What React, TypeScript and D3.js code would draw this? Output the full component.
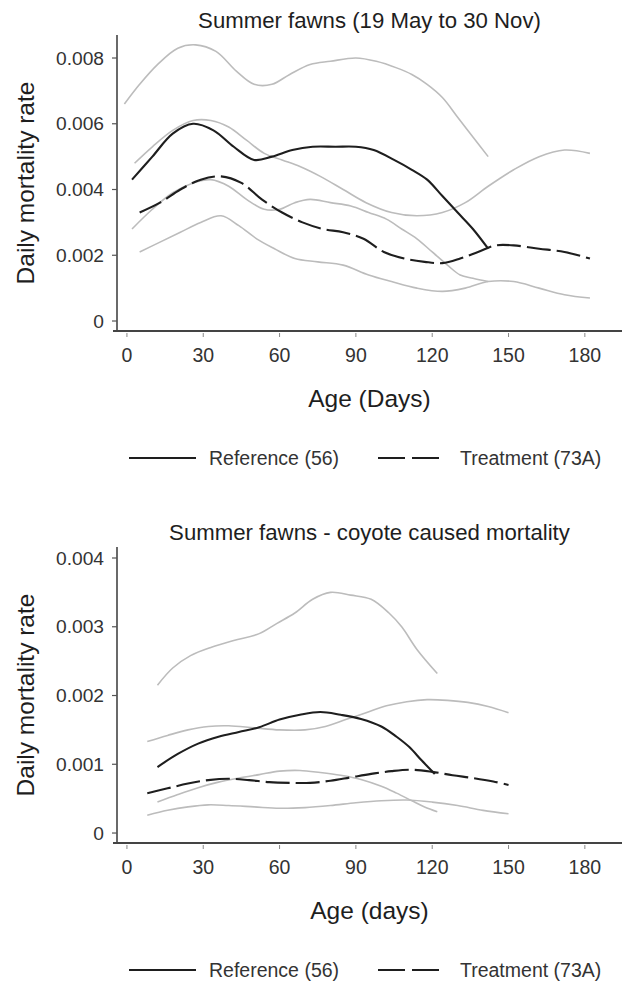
import React from "react";
import * as d3 from "d3";

// ---- Panel 1: all-cause mortality of summer fawns ----
const allRefAge = [2, 10, 18, 26, 34, 42, 50, 57, 65, 73, 82, 90, 97, 105, 112, 118, 124, 130, 136, 142];
const allRefRate = [0.0043, 0.005, 0.0057, 0.006, 0.0058, 0.0053, 0.0049, 0.005, 0.0052, 0.0053, 0.0053, 0.0053, 0.0052, 0.0049, 0.0046, 0.0043, 0.0038, 0.0033, 0.0028, 0.0022];

const allRefHiAge = [-1, 5, 12, 20, 27, 35, 43, 50, 57, 64, 72, 80, 90, 98, 106, 112, 118, 124, 130, 136, 142];
const allRefHiRate = [0.0066, 0.0072, 0.0078, 0.0083, 0.0084, 0.0082, 0.0076, 0.0072, 0.0072, 0.0075, 0.0078, 0.0079, 0.008, 0.0079, 0.0077, 0.0075, 0.0072, 0.0068, 0.0062, 0.0056, 0.005];

const allRefLoAge = [2, 10, 18, 26, 33, 40, 47, 54, 60, 66, 72, 80, 88, 95, 102, 108, 114, 120, 126, 131, 136, 142];
const allRefLoRate = [0.0028, 0.0034, 0.0039, 0.0042, 0.0043, 0.0041, 0.0037, 0.0034, 0.0034, 0.0036, 0.0037, 0.0036, 0.0035, 0.0033, 0.0031, 0.0028, 0.0025, 0.0021, 0.0017, 0.0014, 0.0013, 0.0012];

const allTrtAge = [5, 13, 21, 29, 37, 45, 53, 61, 69, 77, 85, 93, 101, 109, 117, 124, 131, 138, 145, 152, 162, 172, 182];
const allTrtRate = [0.0033, 0.0036, 0.004, 0.0043, 0.0044, 0.0042, 0.0037, 0.0033, 0.003, 0.0028, 0.0027, 0.0025, 0.0021, 0.0019, 0.0018, 0.00176, 0.0019, 0.0021, 0.0023, 0.0023, 0.0022, 0.0021, 0.0019];

const allTrtHiAge = [3, 10, 18, 26, 33, 40, 47, 54, 61, 68, 76, 85, 94, 104, 114, 124, 133, 142, 152, 162, 172, 182];
const allTrtHiRate = [0.0048, 0.0053, 0.0058, 0.0061, 0.0061, 0.0059, 0.0055, 0.0051, 0.0049, 0.0047, 0.0044, 0.004, 0.0036, 0.0033, 0.0032, 0.0033, 0.0036, 0.0041, 0.0046, 0.005, 0.0052, 0.0051];

const allTrtLoAge = [5, 13, 21, 29, 37, 44, 51, 58, 66, 75, 85, 95, 104, 114, 124, 133, 142, 152, 162, 172, 182];
const allTrtLoRate = [0.0021, 0.0024, 0.0027, 0.003, 0.0032, 0.0029, 0.0025, 0.0022, 0.0019, 0.0018, 0.0017, 0.0014, 0.0012, 0.001, 0.0009, 0.001, 0.0012, 0.0012, 0.001, 0.0008, 0.0007];

// ---- Panel 2: coyote-caused mortality ----
const coyRefAge = [12, 20, 28, 36, 44, 52, 60, 68, 76, 84, 92, 100, 106, 111, 116, 121];
const coyRefRate = [0.00096, 0.00115, 0.0013, 0.0014, 0.00147, 0.00154, 0.00165, 0.00172, 0.00176, 0.00172, 0.00166, 0.00155, 0.0014, 0.00125, 0.00105, 0.00086];

const coyRefHiAge = [12, 18, 25, 33, 42, 52, 59, 66, 73, 80, 88, 96, 103, 108, 114, 122];
const coyRefHiRate = [0.00215, 0.0024, 0.00258, 0.0027, 0.0028, 0.0029, 0.00305, 0.0032, 0.0034, 0.0035, 0.00346, 0.0034, 0.0032, 0.003, 0.00267, 0.00232];

const coyRefLoAge = [12, 20, 28, 36, 44, 52, 60, 68, 76, 84, 92, 100, 106, 112, 117, 122];
const coyRefLoRate = [0.00045, 0.00056, 0.00066, 0.00074, 0.0008, 0.00085, 0.0009, 0.00091, 0.00088, 0.00084, 0.00078, 0.00068, 0.00058, 0.00047, 0.00038, 0.00031];

const coyTrtAge = [8, 16, 24, 32, 40, 48, 56, 64, 72, 80, 88, 96, 104, 112, 120, 128, 136, 144, 150];
const coyTrtRate = [0.00058, 0.00065, 0.00072, 0.00077, 0.00079, 0.00077, 0.00074, 0.00073, 0.00073, 0.00076, 0.00081, 0.00086, 0.0009, 0.00092, 0.00089, 0.00084, 0.0008, 0.00075, 0.0007];

const coyTrtHiAge = [8, 16, 24, 32, 40, 50, 60, 70, 78, 86, 94, 102, 110, 118, 126, 134, 142, 150];
const coyTrtHiRate = [0.00133, 0.00142, 0.0015, 0.00155, 0.00156, 0.00153, 0.0015, 0.0015, 0.00155, 0.00165, 0.00175, 0.00185, 0.00191, 0.00194, 0.00193, 0.0019, 0.00184, 0.00175];

const coyTrtLoAge = [8, 16, 24, 32, 40, 50, 60, 70, 80, 90, 100, 110, 120, 130, 140, 150];
const coyTrtLoRate = [0.00026, 0.00033, 0.00038, 0.00041, 0.0004, 0.00038, 0.00036, 0.00037, 0.0004, 0.00044, 0.00047, 0.00048, 0.00045, 0.0004, 0.00033, 0.00028];

// ---- Axes and labels ----
const ageTicks = [0, 30, 60, 90, 120, 150, 180];
const allRateTicks = [0, 0.002, 0.004, 0.006, 0.008];
const coyRateTicks = [0, 0.001, 0.002, 0.003, 0.004];
const legendLabels = ["Reference (56)", "Treatment (73A)"];

const FONT = "'Liberation Sans', Arial, Helvetica, sans-serif";
const INK = "#1e1e1e";
const GREY = "#bcbcbc";
const DASH = "24,6";

type Series = { age: number[]; rate: number[]; kind: "ref" | "trt" | "ci" };

type PanelProps = {
  top: number;
  title: string;
  xTitle: string;
  yDomain: [number, number];
  yTicks: number[];
  yFormat: (v: number) => string;
  series: Series[];
};

const PLOT_LEFT = 117;
const PLOT_RIGHT = 622;
const PLOT_TOP = 35;
const PLOT_BOTTOM = 331;

function Panel({ top, title, xTitle, yDomain, yTicks, yFormat, series }: PanelProps) {
  const x = d3.scaleLinear().domain([-3.9, 194.6]).range([PLOT_LEFT, PLOT_RIGHT]);
  const y = d3.scaleLinear().domain(yDomain).range([PLOT_BOTTOM, PLOT_TOP]);
  const line = d3
    .line<[number, number]>()
    .x((d) => x(d[0]))
    .y((d) => y(d[1]))
    .curve(d3.curveCatmullRom.alpha(0.5));

  // confidence bands first, estimates on top
  const ordered = [...series].sort((a, b) => (a.kind === "ci" ? 0 : 1) - (b.kind === "ci" ? 0 : 1));
  const midX = (PLOT_LEFT + PLOT_RIGHT) / 2;
  const midY = (PLOT_TOP + PLOT_BOTTOM) / 2;
  const legendY = 458;

  return (
    <g transform={`translate(0,${top})`}>
      <text x={midX} y={28} textAnchor="middle" fontSize={22.2} fill={INK} fontFamily={FONT}>
        {title}
      </text>

      {ordered.map((s, i) => {
        const pts = s.age.map((a, j) => [a, s.rate[j]] as [number, number]);
        return (
          <path
            key={i}
            d={line(pts) || ""}
            fill="none"
            stroke={s.kind === "ci" ? GREY : INK}
            strokeWidth={s.kind === "ci" ? 1.6 : 2.1}
            strokeDasharray={s.kind === "trt" ? DASH : undefined}
            strokeLinecap="butt"
            strokeLinejoin="round"
          />
        );
      })}

      {/* y axis */}
      <line x1={PLOT_LEFT} x2={PLOT_LEFT} y1={PLOT_TOP} y2={PLOT_BOTTOM} stroke="#444" strokeWidth={1.6} />
      {yTicks.map((t) => (
        <g key={t} transform={`translate(0,${y(t)})`}>
          <line x1={PLOT_LEFT - 5} x2={PLOT_LEFT} stroke="#555" strokeWidth={1.2} />
          <text x={PLOT_LEFT - 13} dy="0.35em" textAnchor="end" fontSize={19.2} fill="#333" fontFamily={FONT}>
            {yFormat(t)}
          </text>
        </g>
      ))}
      <text
        transform={`translate(34,${midY}) rotate(-90)`}
        textAnchor="middle"
        fontSize={24.5}
        fill={INK}
        fontFamily={FONT}
      >
        Daily mortality rate
      </text>

      {/* x axis */}
      <line x1={PLOT_LEFT - 4} x2={PLOT_RIGHT} y1={PLOT_BOTTOM} y2={PLOT_BOTTOM} stroke="#444" strokeWidth={1.8} />
      {ageTicks.map((t) => (
        <g key={t} transform={`translate(${x(t)},0)`}>
          <line y1={PLOT_BOTTOM + 2} y2={PLOT_BOTTOM + 6} stroke="#888" strokeWidth={1} />
          <text y={362} textAnchor="middle" fontSize={19.5} fill="#333" fontFamily={FONT}>
            {t}
          </text>
        </g>
      ))}
      <text x={midX} y={407} textAnchor="middle" fontSize={24.5} fill={INK} fontFamily={FONT}>
        {xTitle}
      </text>

      {/* legend */}
      <line x1={129} x2={196} y1={legendY} y2={legendY} stroke={INK} strokeWidth={1.8} />
      <text x={209} y={legendY + 7} fontSize={19.5} fill="#333" fontFamily={FONT}>
        {legendLabels[0]}
      </text>
      <line x1={378} x2={440} y1={legendY} y2={legendY} stroke={INK} strokeWidth={1.8} strokeDasharray="27,7" />
      <text x={460} y={legendY + 7} fontSize={19.5} fill="#333" fontFamily={FONT}>
        {legendLabels[1]}
      </text>
    </g>
  );
}

const fmtRate = (v: number) => (v === 0 ? "0" : d3.format(".3f")(v));

export default function App() {
  const allSeries: Series[] = [
    { age: allRefHiAge, rate: allRefHiRate, kind: "ci" },
    { age: allRefLoAge, rate: allRefLoRate, kind: "ci" },
    { age: allTrtHiAge, rate: allTrtHiRate, kind: "ci" },
    { age: allTrtLoAge, rate: allTrtLoRate, kind: "ci" },
    { age: allRefAge, rate: allRefRate, kind: "ref" },
    { age: allTrtAge, rate: allTrtRate, kind: "trt" },
  ];
  const coySeries: Series[] = [
    { age: coyRefHiAge, rate: coyRefHiRate, kind: "ci" },
    { age: coyRefLoAge, rate: coyRefLoRate, kind: "ci" },
    { age: coyTrtHiAge, rate: coyTrtHiRate, kind: "ci" },
    { age: coyTrtLoAge, rate: coyTrtLoRate, kind: "ci" },
    { age: coyRefAge, rate: coyRefRate, kind: "ref" },
    { age: coyTrtAge, rate: coyTrtRate, kind: "trt" },
  ];

  return (
    <svg
      width={628}
      height={983}
      viewBox="0 0 628 983"
      style={{ position: "absolute", left: 0, top: 0, background: "#fff" }}
    >
      <rect width={628} height={983} fill="#fff" />
      <Panel
        top={0}
        title="Summer fawns (19 May to 30 Nov)"
        xTitle="Age (Days)"
        yDomain={[-0.000304, 0.0087]}
        yTicks={allRateTicks}
        yFormat={fmtRate}
        series={allSeries}
      />
      <Panel
        top={512}
        title="Summer fawns - coyote caused mortality"
        xTitle="Age (days)"
        yDomain={[-0.000145, 0.00416]}
        yTicks={coyRateTicks}
        yFormat={fmtRate}
        series={coySeries}
      />
    </svg>
  );
}
